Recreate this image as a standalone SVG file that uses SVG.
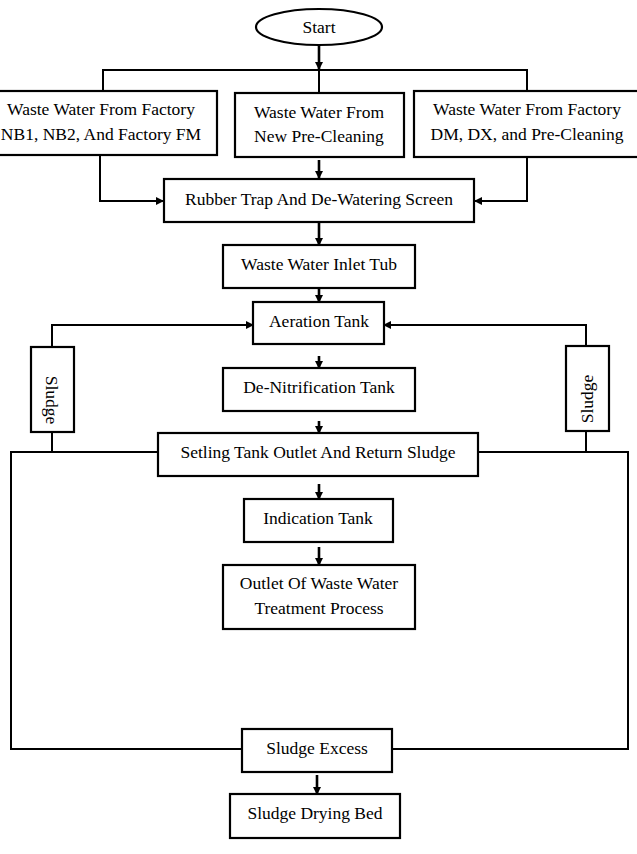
<svg xmlns="http://www.w3.org/2000/svg" width="637" height="854" viewBox="0 0 637 854">
<style>
.box{fill:#fff;stroke:#000;stroke-width:2.2}
.t{font-family:"Liberation Serif","Times New Roman",serif;font-size:17.5px;fill:#000;text-anchor:middle}
.c{fill:none;stroke:#000;stroke-width:2}
.a{fill:none;stroke:#000;stroke-width:2.6}
</style>
<defs>
<marker id="ah" markerUnits="userSpaceOnUse" markerWidth="10" markerHeight="10" refX="8" refY="5" orient="auto">
<path d="M0,1 L8,5 L0,9 z" fill="#000"/>
</marker>
</defs>
<rect x="0" y="0" width="637" height="854" fill="#fff"/>
<g id="connectors">
<path class="a" d="M319,45 V70" marker-end="url(#ah)"/>
<path class="c" d="M103,91 V70 H527 V91"/>
<path class="c" d="M319,70 V93"/>
<path class="c" d="M100,155 V201 H164" marker-end="url(#ah)"/>
<path class="a" d="M319,160 V179" marker-end="url(#ah)"/>
<path class="c" d="M527,157 V201 H474" marker-end="url(#ah)"/>
<path class="a" d="M319,223 V246" marker-end="url(#ah)"/>
<path class="a" d="M319,288 V303" marker-end="url(#ah)"/>
<path class="c" d="M52,347 V325 H254" marker-end="url(#ah)"/>
<path class="c" d="M586,346 V325 H383" marker-end="url(#ah)"/>
<path class="a" d="M319,356 V369" marker-end="url(#ah)"/>
<path class="a" d="M319,421 V434" marker-end="url(#ah)"/>
<path class="c" d="M52,432 V452"/>
<path class="c" d="M586,431 V452"/>
<path class="c" d="M158,452 H11 V749 H242"/>
<path class="c" d="M478,452 H628 V749 H392"/>
<path class="a" d="M319,484 V500" marker-end="url(#ah)"/>
<path class="a" d="M319,547 V566" marker-end="url(#ah)"/>
<path class="a" d="M317,775 V795" marker-end="url(#ah)"/>
</g>
<g id="start">
<ellipse class="box" cx="319" cy="27" rx="63" ry="18"/>
<text class="t" x="319" y="33">Start</text>
</g>
<g id="factory-nb">
<rect class="box" x="-14" y="91" width="231" height="64"/>
<text class="t" x="101" y="115">Waste Water From Factory</text>
<text class="t" x="101" y="140">NB1, NB2, And Factory FM</text>
</g>
<g id="new-precleaning">
<rect class="box" x="235" y="93" width="169" height="64"/>
<text class="t" x="319" y="118">Waste Water From</text>
<text class="t" x="319" y="142">New Pre-Cleaning</text>
</g>
<g id="factory-dm">
<rect class="box" x="414" y="91" width="226" height="66"/>
<text class="t" x="527" y="115">Waste Water From Factory</text>
<text class="t" x="527" y="140">DM, DX, and Pre-Cleaning</text>
</g>
<g id="rubber-trap">
<rect class="box" x="164" y="179" width="310" height="43"/>
<text class="t" x="319" y="205">Rubber Trap And De-Watering Screen</text>
</g>
<g id="inlet-tub">
<rect class="box" x="223" y="245" width="192" height="43"/>
<text class="t" x="319" y="270">Waste Water Inlet Tub</text>
</g>
<g id="aeration">
<rect class="box" x="253" y="302" width="131" height="42"/>
<text class="t" x="319" y="327">Aeration Tank</text>
</g>
<g id="sludge-left">
<rect class="box" x="31" y="347" width="43" height="85"/>
<text class="t" transform="translate(52,400) rotate(90)" x="0" y="6">Sludge</text>
</g>
<g id="sludge-right">
<rect class="box" x="566" y="346" width="43" height="85"/>
<text class="t" transform="translate(587,399) rotate(-90)" x="0" y="6">Sludge</text>
</g>
<g id="denitrification">
<rect class="box" x="223" y="368" width="192" height="43"/>
<text class="t" x="319" y="393">De-Nitrification Tank</text>
</g>
<g id="setling">
<rect class="box" x="158" y="433" width="320" height="43"/>
<text class="t" x="318" y="458">Setling Tank Outlet And Return Sludge</text>
</g>
<g id="indication">
<rect class="box" x="244" y="499" width="149" height="43"/>
<text class="t" x="318" y="524">Indication Tank</text>
</g>
<g id="outlet">
<rect class="box" x="223" y="565" width="192" height="64"/>
<text class="t" x="319" y="589">Outlet Of Waste Water</text>
<text class="t" x="319" y="614">Treatment Process</text>
</g>
<g id="sludge-excess">
<rect class="box" x="242" y="729" width="150" height="43"/>
<text class="t" x="317" y="754">Sludge Excess</text>
</g>
<g id="drying-bed">
<rect class="box" x="230" y="794" width="170" height="44"/>
<text class="t" x="315" y="819">Sludge Drying Bed</text>
</g>
</svg>
